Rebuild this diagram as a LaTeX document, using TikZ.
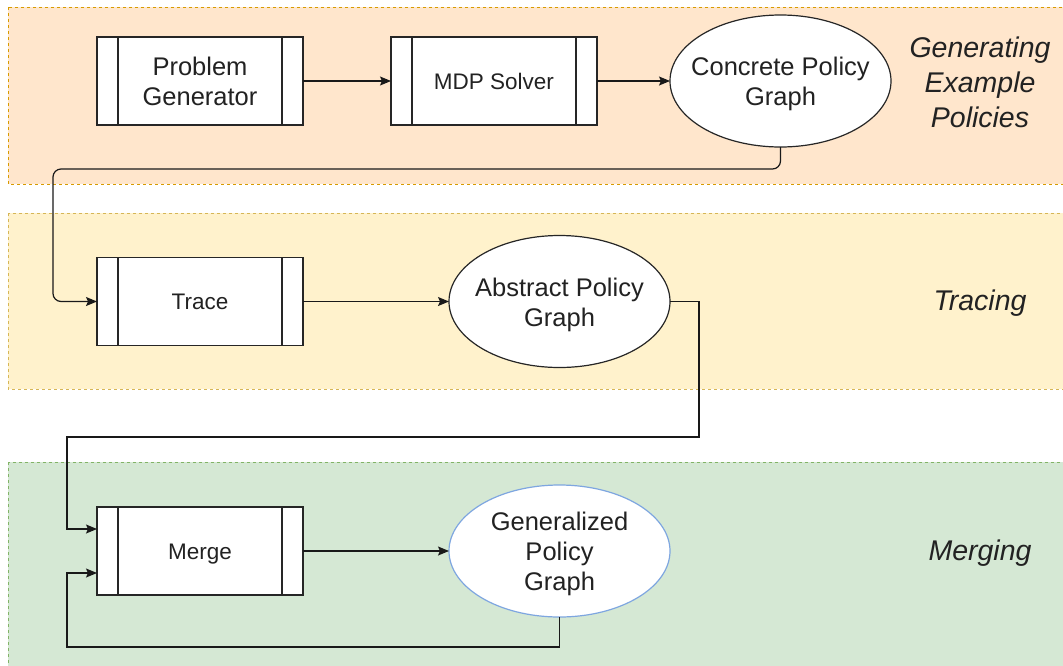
\documentclass[tikz,border=0pt]{standalone}
\usepackage{fontspec}
\setmainfont{Liberation Sans}
\usetikzlibrary{shapes.geometric,arrows.meta,calc}
\definecolor{bandA}{HTML}{FFE6CC}
\definecolor{bandAline}{HTML}{D79B00}
\definecolor{bandB}{HTML}{FFF2CC}
\definecolor{bandBline}{HTML}{D6B656}
\definecolor{bandC}{HTML}{D5E8D4}
\definecolor{bandCline}{HTML}{82B366}
\definecolor{blueline}{HTML}{7EA6E0}
\definecolor{txt}{HTML}{222222}
\tikzset{
  band/.style={line width=1pt, dash pattern=on 3pt off 3pt},
  procbox/.style={draw=black!85, fill=white, line width=1.2pt, minimum width=206pt, minimum height=88pt,
    inner sep=0pt, outer sep=0pt, align=center, text=txt,
    path picture={
      \draw[line width=1.2pt, black!85] ([xshift=21pt]path picture bounding box.north west) -- ([xshift=21pt]path picture bounding box.south west);
      \draw[line width=1.2pt, black!85] ([xshift=-21pt]path picture bounding box.north east) -- ([xshift=-21pt]path picture bounding box.south east);
    }},
  bigtxt/.style={font=\fontsize{25.5}{30}\selectfont},
  smalltxt/.style={font=\fontsize{22.5}{27}\selectfont, text height=16pt, text depth=0pt},
  ell/.style={ellipse, draw=black!85, fill=white, line width=1.2pt, minimum width=221pt, minimum height=132pt,
    inner sep=0pt, outer sep=0pt},
  elltxt/.style={align=center, text=txt, font=\fontsize{25.5}{30}\selectfont, inner sep=0pt, yshift=-3pt},
  phase/.style={align=center, text=txt, font=\fontsize{28.5}{35}\selectfont\itshape},
  arr/.style={draw=black!90, line width=1.2pt, -{Stealth[length=11pt,width=9pt,inset=2pt]}},
}
\begin{document}
\begin{tikzpicture}[x=1pt,y=-1pt]
\useasboundingbox (0,0) rectangle (1063,665);
% bands
\draw[band, fill=bandA, draw=bandAline] (8,7) rectangle (1075,184);
\draw[band, fill=bandB, draw=bandBline] (8,213) rectangle (1075,389);
\draw[band, fill=bandC, draw=bandCline] (8,462) rectangle (1075,680);
% phase labels
\node[phase] (lgen) at (980,82) {Generating\\Example\\Policies};
\node[phase] (ltrace) at (980,303) {Tracing};
\node[phase] (lmerge) at (980,553) {Merging};
% nodes
\node[procbox, bigtxt] (pg) at (200,81) {Problem\\Generator};
\node[procbox, smalltxt] (mdp) at (494,81) {MDP Solver};
\node[ell, label={[elltxt]center:{Concrete Policy\\Graph}}] (cpg) at (780.5,81) {};
\node[procbox, smalltxt] (trace) at (200,301.5) {Trace};
\node[ell, label={[elltxt]center:{Abstract Policy\\Graph}}] (apg) at (559.5,301.5) {};
\node[procbox, smalltxt] (merge) at (200,551) {Merge};
\node[ell, draw=blueline, label={[elltxt]center:{Generalized\\Policy\\Graph}}] (gpg) at (559.5,551) {};
% waypoints
\coordinate (w1) at (53,169);
\coordinate (w2) at (699,437);
\coordinate (w3) at (67,437);
\coordinate (w4) at (67,647);
% connectors
\draw[arr] (pg.east) -- (mdp.west);
\draw[arr] (mdp.east) -- (cpg.west);
\draw[arr, rounded corners=8pt] (cpg.south) |- (w1) |- (trace.west);
\draw[arr] (trace.east) -- (apg.west);
\draw[arr] (apg.east) -| (w2) -- (w3) |- ($(merge.west)+(0,-22)$);
\draw[arr] (merge.east) -- (gpg.west);
\draw[arr] (gpg.south) |- (w4) |- ($(merge.west)+(0,22)$);
\end{tikzpicture}
\end{document}
